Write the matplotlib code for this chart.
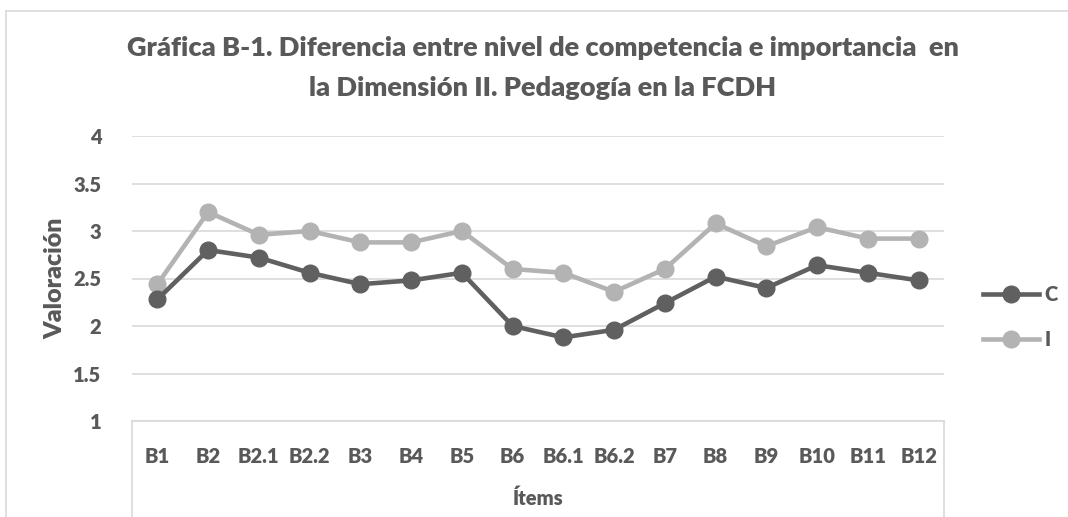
import matplotlib
matplotlib.use("Agg")
import matplotlib.pyplot as plt
from matplotlib.lines import Line2D

# category labels and series values
items = ["B1", "B2", "B2.1", "B2.2", "B3", "B4", "B5", "B6",
         "B6.1", "B6.2", "B7", "B8", "B9", "B10", "B11", "B12"]
comp_c = [2.28, 2.80, 2.72, 2.56, 2.44, 2.48, 2.56, 2.00,
          1.88, 1.96, 2.24, 2.52, 2.40, 2.64, 2.56, 2.48]
imp_i = [2.44, 3.20, 2.96, 3.00, 2.88, 2.88, 3.00, 2.60,
         2.56, 2.36, 2.60, 3.08, 2.84, 3.04, 2.92, 2.92]
y_ticks = [1, 1.5, 2, 2.5, 3, 3.5, 4]
y_tick_labels = ["1", "1.5", "2", "2.5", "3", "3.5", "4"]

plt.rcParams['font.family'] = ['Lato', 'DejaVu Sans']
plt.rcParams['font.weight'] = 'heavy'

TXT = '#595959'
GRID = '#d9d9d9'
W, H = 1068, 517

fig = plt.figure(figsize=(W / 100, H / 100), dpi=100)

# plot area in pixel coords -> figure fractions
left, right, top, bottom = 132, 944, 136, 421
ax = fig.add_axes([left / W, 1 - bottom / H, (right - left) / W, (bottom - top) / H])

x = list(range(len(items)))
ax.plot(x, comp_c, color='#606060', lw=3.3, marker='o', ms=12, label='C', zorder=3)
ax.plot(x, imp_i, color='#b3b3b3', lw=3.3, marker='o', ms=12, label='I', zorder=2)

ax.set_xlim(-0.5, len(items) - 0.5)
ax.set_ylim(1, 4)
ax.set_yticks(y_ticks)
ax.set_yticklabels(y_tick_labels)
ax.set_xticks(x)
ax.set_xticklabels(items)
ax.grid(axis='y', color=GRID, lw=1.2)
ax.set_axisbelow(True)
ax.tick_params(axis='both', length=0, labelsize=14.5, colors=TXT)
ax.tick_params(axis='y', pad=22)
ax.tick_params(axis='x', pad=19)
for s in ['top', 'right']:
    ax.spines[s].set_visible(False)
ax.spines['left'].set_visible(False)
ax.spines['bottom'].set_color(GRID)
ax.spines['bottom'].set_linewidth(1.2)

# category box under the axis
for px in (left, right):
    fig.add_artist(Line2D([px / W, px / W], [0, 1 - bottom / H], color=GRID, lw=1.2))

# outer chart frame (cropped on right/bottom)
fig.add_artist(Line2D([6 / W, 1], [1 - 11 / H, 1 - 11 / H], color=GRID, lw=1.2))
fig.add_artist(Line2D([6 / W, 6 / W], [0, 1 - 11 / H], color=GRID, lw=1.2))

fig.text(543 / W, 1 - 48 / H,
         "Gráfica B-1. Diferencia entre nivel de competencia e importancia  en",
         ha='center', va='center', fontsize=19.5, color=TXT)
fig.text(543 / W, 1 - 88 / H, "la Dimensión II. Pedagogía en la FCDH",
         ha='center', va='center', fontsize=19.5, color=TXT)

fig.text(55 / W, 1 - 278 / H, "Valoración", rotation=90, ha='center', va='center',
         fontsize=18, color=TXT)
fig.text(538 / W, 1 - 498 / H, "Ítems", ha='center', va='center', fontsize=14.5, color=TXT)

ax.legend(loc='center left', bbox_to_anchor=(983 / W, 1 - 317 / H),
          bbox_transform=fig.transFigure, frameon=False, borderpad=0,
          borderaxespad=0, handlelength=2.8, handletextpad=0.25,
          labelspacing=1.3, fontsize=14.5, labelcolor=TXT)

fig.savefig("out.png", dpi=100)
